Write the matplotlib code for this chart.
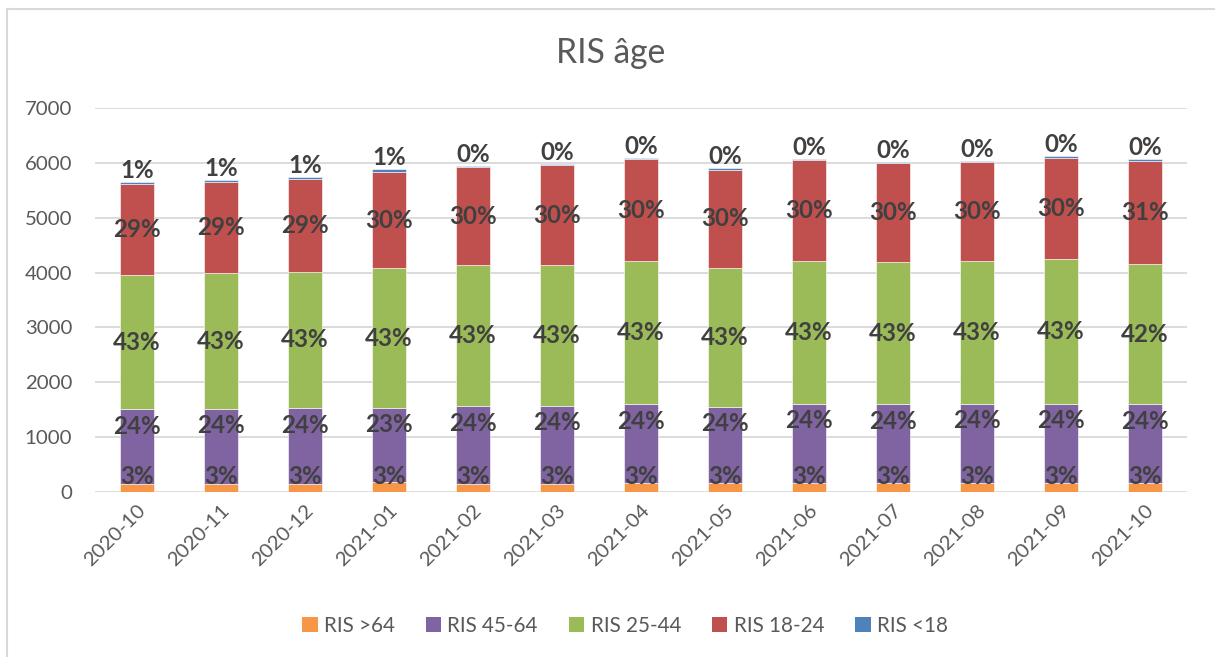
import matplotlib.pyplot as plt
from matplotlib.patches import Patch
from matplotlib.lines import Line2D
import numpy as np

plt.rcParams['font.family'] = ['Lato', 'DejaVu Sans']

# Data
months = ['2020-10', '2020-11', '2020-12', '2021-01', '2021-02', '2021-03', '2021-04',
          '2021-05', '2021-06', '2021-07', '2021-08', '2021-09', '2021-10']
ris_over64 = [150, 150, 150, 175, 150, 150, 160, 155, 160, 155, 160, 165, 155]
ris_45_64 = [1357, 1365, 1380, 1360, 1410, 1423, 1438, 1400, 1450, 1443, 1450, 1445, 1443]
ris_25_44 = [2448, 2470, 2485, 2540, 2578, 2565, 2618, 2528, 2601, 2590, 2600, 2637, 2560]
ris_18_24 = [1654, 1665, 1685, 1765, 1781, 1817, 1849, 1792, 1846, 1804, 1800, 1847, 1881]
ris_under18 = [36, 35, 35, 40, 25, 25, 23, 25, 19, 17, 25, 28, 25]

series = [ris_over64, ris_45_64, ris_25_44, ris_18_24, ris_under18]
names = ['RIS >64', 'RIS 45-64', 'RIS 25-44', 'RIS 18-24', 'RIS <18']
colors = ['#F79646', '#8064A2', '#9BBB59', '#C0504D', '#4F81BD']

W, H = 1215, 657
fig = plt.figure(figsize=(W / 100, H / 100), dpi=100)

# font sizes (pt) measured so the texts get the same pixel widths as the reference
tick_fs = 14.7
title_fs = 24.2
lab_fs = 17.4
leg_fs = 14.9

ax = fig.add_axes([95 / W, 1 - 492 / H, (1187 - 95) / W, (492 - 108) / H])

x = np.arange(len(months))
vals = np.array(series, dtype=float)
totals = vals.sum(axis=0)
bottoms = np.zeros(len(months))

lab_kw = dict(fontsize=lab_fs, fontweight='bold', color='#404040', ha='center')

for k, (v, c) in enumerate(zip(vals, colors)):
    ax.bar(x, v, 0.4, bottom=bottoms, color=c, edgecolor='white', linewidth=0.4, zorder=2)
    for i in range(len(months)):
        pct = f"{v[i] / totals[i]:.0%}"
        top = bottoms[i] + v[i]
        if k == 0:
            # small bottom segment: label sits just above the axis
            ax.annotate(pct, (x[i], 0), xytext=(0, 6), textcoords='offset points',
                        va='baseline', **lab_kw)
        elif k == 1:
            # inside end
            ax.annotate(pct, (x[i], top), xytext=(0, -4), textcoords='offset points',
                        va='top', **lab_kw)
        elif k == 4:
            ax.annotate(pct, (x[i], top), xytext=(0, 3), textcoords='offset points',
                        va='baseline', **lab_kw)
        else:
            ax.text(x[i], bottoms[i] + v[i] / 2, pct, va='center', **lab_kw)
    bottoms += v

ax.set_xlim(-0.5, len(months) - 0.5)
ax.set_ylim(0, 7000)
ax.set_yticks(range(0, 7001, 1000))
ax.set_xticks(x)
ax.set_xticklabels(months, rotation=45, ha='right', rotation_mode='anchor')
ax.tick_params(axis='both', length=0, labelsize=tick_fs, labelcolor='#595959')
ax.tick_params(axis='y', pad=16.5)
ax.tick_params(axis='x', pad=7)
ax.grid(axis='y', color='#D9D9D9', linewidth=1.3, zorder=0)
ax.set_axisbelow(True)
for s in ax.spines.values():
    s.set_visible(False)

fig.text(611 / W, 1 - 53 / H, 'RIS âge', fontsize=title_fs, color='#595959',
         ha='center', va='center')

handles = [Patch(facecolor=c, edgecolor='none') for c in colors]
fig.legend(handles, names, loc='center', bbox_to_anchor=(625 / W, 1 - 626 / H), ncol=5,
           frameon=False, fontsize=leg_fs, labelcolor='#595959', handlelength=0.75,
           handleheight=0.75, handletextpad=0.3, columnspacing=1.5)

# chart border (left and top edges visible)
fig.add_artist(Line2D([7 / W, 7 / W], [0, 1 - 9 / H], color='#D9D9D9', linewidth=1.5))
fig.add_artist(Line2D([7 / W, 1], [1 - 9 / H, 1 - 9 / H], color='#D9D9D9', linewidth=1.5))

fig.savefig('out.png', dpi=100)
